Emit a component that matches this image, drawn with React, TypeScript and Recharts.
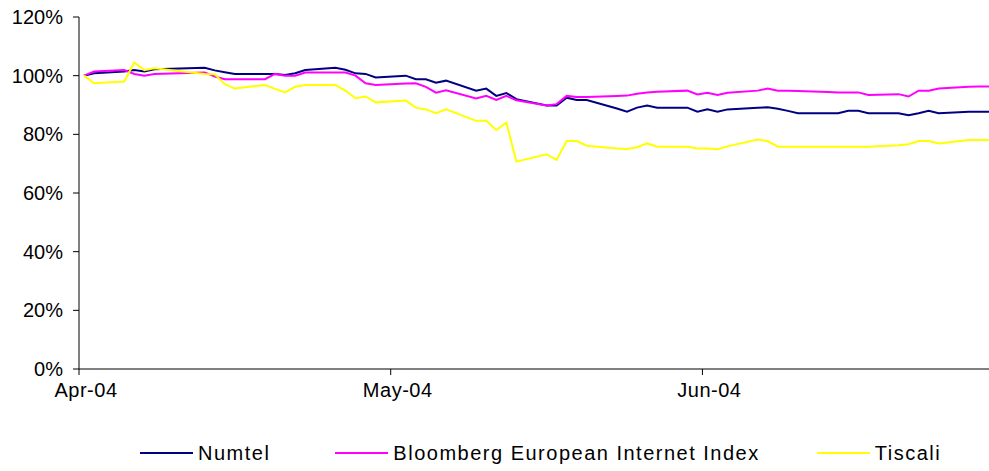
import React from 'react';
import { LineChart, Line, XAxis, YAxis, Legend } from 'recharts';

// trading days as calendar-day offsets from 1 Apr 2004
const tradingDays = [
  0, 1, 4, 5, 6, 7, 12, 13, 14, 15, 18, 19, 20, 21, 22, 25, 26, 27, 28, 29,
  32, 33, 34, 35, 36, 39, 40, 41, 42, 43, 46, 47, 48, 49, 50, 53, 54, 55, 56, 57, 60,
  61, 62, 63, 64, 67, 68, 69, 70, 71, 74, 75, 76, 77, 78, 81, 82, 83, 84, 85, 88, 89, 90,
];

// rebased to 100% on 1 Apr
const numtel = [
  100, 100.8, 101.4, 101.9, 101.4, 102.2, 102.7, 101.8, 101.2, 100.6, 100.6, 100.6, 100.2, 100.8, 101.9, 102.7, 102.0, 100.8, 100.6, 99.4,
  100, 98.8, 98.8, 97.6, 98.3, 94.9, 95.6, 93.1, 94.1, 92.0, 89.8, 89.8, 92.5, 91.7, 91.7, 88.8, 87.7, 89.1, 89.8, 89.1, 89.1,
  87.7, 88.5, 87.7, 88.5, 89.1, 89.2, 88.7, 88.0, 87.2, 87.2, 87.2, 88.0, 88.0, 87.2, 87.2, 86.5, 87.2, 88.0, 87.2, 87.7, 87.7, 87.7,
];

const bloomberg = [
  100, 101.4, 101.9, 100.6, 100, 100.6, 101.1, 99.7, 98.8, 98.8, 98.8, 100.6, 100, 100, 101.1, 101.1, 101.1, 100, 97.4, 96.8,
  97.3, 97.4, 96.2, 94.2, 95.0, 92.2, 93.1, 91.7, 93.1, 91.6, 89.8, 90.3, 93.1, 92.7, 92.7, 93.1, 93.2, 93.8, 94.3, 94.5, 94.9,
  93.6, 94.2, 93.4, 94.2, 94.9, 95.6, 94.9, 94.9, 94.8, 94.4, 94.3, 94.3, 94.3, 93.4, 93.7, 92.9, 94.9, 94.9, 95.6, 96.2, 96.3, 96.3,
];

const tiscali = [
  100, 97.4, 98.0, 104.5, 101.9, 102.5, 100.6, 100.5, 97.1, 95.6, 96.8, 95.5, 94.3, 96.2, 96.8, 96.8, 94.9, 92.3, 92.9, 90.9,
  91.5, 89.1, 88.5, 87.2, 88.5, 84.6, 84.6, 81.5, 84.0, 70.7, 73.2, 71.3, 77.7, 77.7, 76.1, 75.2, 75.0, 75.6, 76.9, 75.8, 75.8,
  75.2, 75.2, 74.9, 75.9, 78.2, 77.7, 75.8, 75.8, 75.8, 75.8, 75.8, 75.8, 75.8, 75.8, 76.3, 76.6, 77.7, 77.7, 76.9, 78.1, 78.1, 78.1,
];

const seriesNames = ['Numtel', 'Bloomberg European Internet Index', 'Tiscali'];
const monthTicks = [0, 31, 62];
const monthLabels = ['Apr-04', 'May-04', 'Jun-04'];
const yTicks = [0, 20, 40, 60, 80, 100, 120];

const data = tradingDays.map((d, i) => ({
  day: d + 0.5,
  numtel: numtel[i],
  bloomberg: bloomberg[i],
  tiscali: tiscali[i],
}));

const legendGaps = [65, 57, 0];

const renderLegend = (props: any) => {
  const payload = [...(props.payload || [])].sort(
    (a: any, b: any) => seriesNames.indexOf(a.value) - seriesNames.indexOf(b.value)
  );
  return (
    <div style={{ height: 36, display: 'flex', alignItems: 'center', paddingLeft: 140, fontSize: 20, letterSpacing: 1.5, color: '#000' }}>
      {payload.map((entry: any, i: number) => (
        <div key={entry.value} style={{ display: 'flex', alignItems: 'center', marginRight: legendGaps[i] }}>
          <span style={{ display: 'inline-block', width: 53, height: 2, background: entry.color, marginRight: 5 }} />
          <span>{entry.value}</span>
        </div>
      ))}
    </div>
  );
};

export default function App() {
  const font = '"Liberation Sans", Arial, sans-serif';
  return (
    <div style={{ width: 989, height: 471, fontFamily: font, background: '#fff' }}>
      <style>{'body{margin:0}'}</style>
      <LineChart width={989} height={471} data={data} margin={{ top: 17, right: 0, left: 0, bottom: 0 }}>
        <XAxis
          dataKey="day"
          type="number"
          domain={[0, 90.5]}
          ticks={monthTicks}
          tickFormatter={(v: number) => monthLabels[monthTicks.indexOf(v)] ?? ''}
          height={66}
          axisLine={{ stroke: '#000' }}
          tickLine={{ stroke: '#000' }}
          tick={{ fill: '#000', fontSize: 20, dx: 7, style: { letterSpacing: 0.5 } }}
          tickMargin={8}
        />
        <YAxis
          domain={[0, 120]}
          ticks={yTicks}
          tickFormatter={(v: number) => `${v}%`}
          width={79}
          axisLine={{ stroke: '#000' }}
          tickLine={{ stroke: '#000' }}
          tick={{ fill: '#000', fontSize: 20 }}
          tickMargin={10}
        />
        <Legend verticalAlign="bottom" content={renderLegend} wrapperStyle={{ left: 0 }} />
        <Line type="linear" dataKey="numtel" name="Numtel" stroke="#000080" strokeWidth={2} dot={false} isAnimationActive={false} />
        <Line type="linear" dataKey="bloomberg" name="Bloomberg European Internet Index" stroke="#FF00FF" strokeWidth={2} dot={false} isAnimationActive={false} />
        <Line type="linear" dataKey="tiscali" name="Tiscali" stroke="#FFFF00" strokeWidth={2} dot={false} isAnimationActive={false} />
      </LineChart>
    </div>
  );
}
